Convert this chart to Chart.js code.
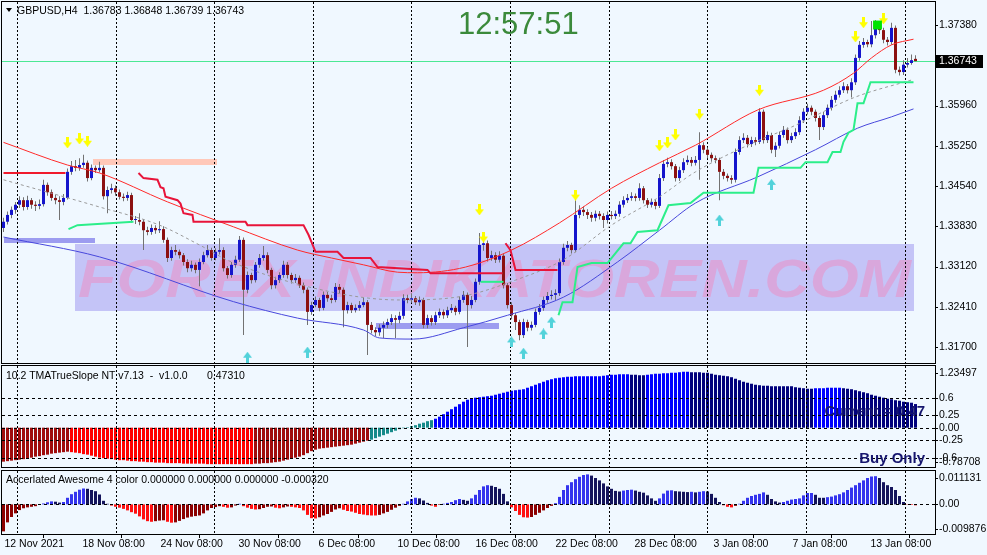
<!DOCTYPE html>
<html>
<head>
<meta charset="utf-8">
<title>GBPUSD,H4</title>
<script src="https://cdn.jsdelivr.net/npm/chart.js@4.4.1/dist/chart.umd.min.js"></script>
<style>
  html, body { margin: 0; padding: 0; background: #f0f8ff; }
  #wrap { position: relative; width: 987px; height: 555px; overflow: hidden; font-family: "Liberation Sans", Arial, sans-serif; }
  #wrap canvas { position: absolute; left: 0; }
  .lbl { position: absolute; font-size: 10.5px; line-height: 12px; color: #000; white-space: pre; }
  .tri { position: absolute; left: 6px; top: 8px; width: 0; height: 0; border-left: 3px solid transparent; border-right: 3px solid transparent; border-top: 4px solid #000; }
  .clock { position: absolute; left: 458px; top: 8px; font-size: 31px; line-height: 31px; color: #3b8a3b; }
  .note { position: absolute; right: 62px; font-size: 15px; line-height: 16px; font-weight: bold; color: #16166e; }
</style>
</head>
<body>
<div id="wrap">
  <canvas id="main" width="987" height="365" style="top:0"></canvas>
  <canvas id="tma" width="987" height="105" style="top:364px"></canvas>
  <canvas id="ao" width="987" height="86" style="top:469px"></canvas>
  <div class="tri"></div>
  <div class="lbl" style="left:17px;top:4px">GBPUSD,H4  1.36783 1.36848 1.36739 1.36743</div>
  <div class="clock">12:57:51</div>
  <div class="lbl" style="left:6px;top:369px">10.2 TMATrueSlope NT v7.13  -  v1.0.0</div>
  <div class="lbl" style="left:207px;top:369px">0.47310</div>
  <div class="note" style="top:403px">Current = 0.47</div>
  <div class="note" style="top:450px">Buy Only</div>
  <div class="lbl" style="left:6px;top:473px">Accerlated Awesome 4 color 0.000000 0.000000 0.000000 -0.000320</div>
</div>
<script>
// H4 candles, oldest first
const open = [
  1.3380,1.3391,1.3403,1.3412,1.3421,1.3429,1.3417,1.3429,1.3421,1.3419,
  1.3422,1.3456,1.3443,1.3433,1.3429,1.3426,1.3433,1.3479,1.3489,1.3486,
  1.3491,1.3495,1.3468,1.3486,1.3482,1.3486,1.3436,1.3447,1.3450,1.3443,
  1.3435,1.3433,1.3438,1.3394,1.3394,1.3391,1.3376,1.3373,1.3380,1.3376,
  1.3378,1.3359,1.3327,1.3341,1.3338,1.3332,1.3320,1.3309,1.3315,1.3306,
  1.3320,1.3332,1.3341,1.3327,1.3338,1.3341,1.3309,1.3297,1.3315,1.3324,
  1.3359,1.3271,1.3297,1.3288,1.3315,1.3327,1.3332,1.3306,1.3279,1.3288,
  1.3297,1.3315,1.3297,1.3288,1.3292,1.3279,1.3271,1.3232,1.3244,1.3253,
  1.3239,1.3262,1.3256,1.3253,1.3276,1.3271,1.3235,1.3244,1.3235,1.3239,
  1.3244,1.3249,1.3209,1.3200,1.3196,1.3204,1.3209,1.3214,1.3221,1.3218,
  1.3225,1.3256,1.3253,1.3256,1.3249,1.3253,1.3209,1.3221,1.3214,1.3226,
  1.3232,1.3226,1.3235,1.3239,1.3232,1.3253,1.3262,1.3244,1.3253,1.3285,
  1.3350,1.3353,1.3327,1.3332,1.3324,1.3331,1.3279,1.3244,1.3226,1.3214,
  1.3191,1.3214,1.3204,1.3209,1.3232,1.3239,1.3253,1.3260,1.3262,1.3265,
  1.3320,1.3345,1.3350,1.3341,1.3403,1.3412,1.3408,1.3403,1.3398,1.3405,
  1.3401,1.3394,1.3403,1.3401,1.3405,1.3421,1.3429,1.3433,1.3436,1.3433,
  1.3450,1.3429,1.3421,1.3426,1.3419,1.3468,1.3493,1.3496,1.3489,1.3468,
  1.3482,1.3496,1.3500,1.3495,1.3500,1.3526,1.3518,1.3509,1.3503,1.3500,
  1.3479,1.3472,1.3468,1.3465,1.3514,1.3535,1.3539,1.3528,1.3535,1.3532,
  1.3585,1.3535,1.3544,1.3518,1.3525,1.3544,1.3553,1.3535,1.3542,1.3549,
  1.3570,1.3585,1.3592,1.3585,1.3574,1.3558,1.3579,1.3592,1.3606,1.3615,
  1.3623,1.3630,1.3623,1.3637,1.3680,1.3703,1.3708,1.3704,1.3720,1.3740,
  1.3729,1.3712,1.3708,1.3733,1.3659,1.3655,1.3668,1.3671,1.36783
];
const high = [
  1.3398,1.3409,1.3418,1.3426,1.3436,1.3434,1.3437,1.3433,1.3427,1.3430,
  1.3465,1.3460,1.3448,1.3439,1.3436,1.3440,1.3485,1.3498,1.3500,1.3503,
  1.3509,1.3499,1.3492,1.3490,1.3497,1.3490,1.3453,1.3458,1.3455,1.3448,
  1.3441,1.3444,1.3442,1.3401,1.3406,1.3396,1.3382,1.3386,1.3385,1.3392,
  1.3383,1.3363,1.3347,1.3350,1.3342,1.3336,1.3325,1.3322,1.3319,1.3326,
  1.3338,1.3350,1.3345,1.3344,1.3362,1.3346,1.3313,1.3320,1.3331,1.3366,
  1.3363,1.3303,1.3301,1.3320,1.3334,1.3348,1.3337,1.3310,1.3294,1.3302,
  1.3322,1.3320,1.3301,1.3299,1.3296,1.3284,1.3275,1.3250,1.3259,1.3257,
  1.3268,1.3267,1.3262,1.3283,1.3281,1.3275,1.3250,1.3248,1.3245,1.3251,
  1.3258,1.3253,1.3214,1.3205,1.3210,1.3215,1.3220,1.3228,1.3226,1.3232,
  1.3263,1.3262,1.3265,1.3260,1.3259,1.3257,1.3227,1.3226,1.3232,1.3238,
  1.3236,1.3241,1.3246,1.3243,1.3259,1.3269,1.3266,1.3260,1.3291,1.3371,
  1.3368,1.3358,1.3340,1.3337,1.3339,1.3335,1.3283,1.3249,1.3230,1.3218,
  1.3220,1.3218,1.3215,1.3238,1.3246,1.3259,1.3267,1.3270,1.3272,1.3326,
  1.3352,1.3357,1.3354,1.3435,1.3420,1.3418,1.3413,1.3408,1.3411,1.3410,
  1.3406,1.3409,1.3410,1.3411,1.3427,1.3436,1.3440,1.3443,1.3441,1.3459,
  1.3454,1.3433,1.3432,1.3430,1.3475,1.3500,1.3504,1.3501,1.3493,1.3488,
  1.3503,1.3508,1.3505,1.3507,1.3549,1.3531,1.3522,1.3513,1.3508,1.3504,
  1.3484,1.3476,1.3473,1.3520,1.3542,1.3547,1.3544,1.3541,1.3540,1.3591,
  1.3589,1.3550,1.3548,1.3531,1.3550,1.3560,1.3557,1.3548,1.3556,1.3577,
  1.3591,1.3599,1.3596,1.3589,1.3578,1.3585,1.3598,1.3613,1.3622,1.3630,
  1.3637,1.3634,1.3644,1.3686,1.3710,1.3715,1.3712,1.3745,1.3747,1.3744,
  1.3733,1.3717,1.3742,1.3737,1.3665,1.3676,1.3680,1.3686,1.36848
];
const low = [
  1.3373,1.3386,1.3397,1.3405,1.3415,1.3411,1.3412,1.3414,1.3410,1.3413,
  1.3418,1.3437,1.3428,1.3422,1.3394,1.3420,1.3430,1.3474,1.3480,1.3481,
  1.3486,1.3462,1.3464,1.3477,1.3478,1.3430,1.3406,1.3441,1.3437,1.3430,
  1.3427,1.3428,1.3389,1.3387,1.3385,1.3341,1.3367,1.3368,1.3370,1.3371,
  1.3354,1.3320,1.3322,1.3332,1.3326,1.3314,1.3302,1.3303,1.3300,1.3277,
  1.3316,1.3328,1.3322,1.3323,1.3333,1.3303,1.3291,1.3292,1.3310,1.3320,
  1.3191,1.3265,1.3282,1.3284,1.3310,1.3322,1.3300,1.3272,1.3273,1.3283,
  1.3292,1.3291,1.3282,1.3283,1.3274,1.3265,1.3209,1.3227,1.3240,1.3233,
  1.3235,1.3250,1.3247,1.3249,1.3265,1.3205,1.3229,1.3230,1.3231,1.3234,
  1.3240,1.3156,1.3194,1.3189,1.3190,1.3186,1.3203,1.3209,1.3186,1.3212,
  1.3220,1.3247,1.3248,1.3244,1.3243,1.3203,1.3203,1.3208,1.3209,1.3221,
  1.3220,1.3221,1.3230,1.3226,1.3228,1.3248,1.3170,1.3238,1.3249,1.3280,
  1.3340,1.3321,1.3322,1.3318,1.3319,1.3273,1.3238,1.3219,1.3200,1.3182,
  1.3186,1.3198,1.3199,1.3205,1.3227,1.3234,1.3248,1.3254,1.3252,1.3260,
  1.3315,1.3339,1.3335,1.3337,1.3397,1.3401,1.3396,1.3391,1.3392,1.3395,
  1.3380,1.3388,1.3395,1.3396,1.3400,1.3416,1.3424,1.3428,1.3427,1.3428,
  1.3423,1.3415,1.3416,1.3413,1.3415,1.3463,1.3487,1.3483,1.3462,1.3463,
  1.3477,1.3491,1.3489,1.3490,1.3465,1.3512,1.3503,1.3497,1.3494,1.3429,
  1.3466,1.3462,1.3458,1.3460,1.3509,1.3530,1.3522,1.3523,1.3526,1.3528,
  1.3529,1.3530,1.3512,1.3505,1.3520,1.3539,1.3529,1.3530,1.3537,1.3544,
  1.3565,1.3580,1.3579,1.3568,1.3535,1.3553,1.3574,1.3587,1.3601,1.3610,
  1.3618,1.3617,1.3610,1.3632,1.3675,1.3698,1.3699,1.3699,1.3714,1.3722,
  1.3706,1.3702,1.3703,1.3653,1.3649,1.3650,1.3663,1.3668,1.36739
];
const close = [
  1.3391,1.3403,1.3412,1.3421,1.3429,1.3417,1.3429,1.3421,1.3419,1.3422,
  1.3456,1.3443,1.3433,1.3429,1.3426,1.3433,1.3479,1.3489,1.3486,1.3491,
  1.3495,1.3468,1.3486,1.3482,1.3486,1.3436,1.3447,1.3450,1.3443,1.3435,
  1.3433,1.3438,1.3394,1.3394,1.3391,1.3376,1.3373,1.3380,1.3376,1.3378,
  1.3359,1.3327,1.3341,1.3338,1.3332,1.3320,1.3309,1.3315,1.3306,1.3320,
  1.3332,1.3341,1.3327,1.3338,1.3341,1.3309,1.3297,1.3315,1.3324,1.3359,
  1.3271,1.3297,1.3288,1.3315,1.3327,1.3332,1.3306,1.3279,1.3288,1.3297,
  1.3315,1.3297,1.3288,1.3292,1.3279,1.3271,1.3232,1.3244,1.3253,1.3239,
  1.3262,1.3256,1.3253,1.3276,1.3271,1.3235,1.3244,1.3235,1.3239,1.3244,
  1.3249,1.3209,1.3200,1.3196,1.3204,1.3209,1.3214,1.3221,1.3218,1.3225,
  1.3256,1.3253,1.3256,1.3249,1.3253,1.3209,1.3221,1.3214,1.3226,1.3232,
  1.3226,1.3235,1.3239,1.3232,1.3253,1.3262,1.3244,1.3253,1.3285,1.3350,
  1.3353,1.3327,1.3332,1.3324,1.3331,1.3279,1.3244,1.3226,1.3214,1.3191,
  1.3214,1.3204,1.3209,1.3232,1.3239,1.3253,1.3260,1.3262,1.3265,1.3320,
  1.3345,1.3350,1.3341,1.3403,1.3412,1.3408,1.3403,1.3398,1.3405,1.3401,
  1.3394,1.3403,1.3401,1.3405,1.3421,1.3429,1.3433,1.3436,1.3433,1.3450,
  1.3429,1.3421,1.3426,1.3419,1.3468,1.3493,1.3496,1.3489,1.3468,1.3482,
  1.3496,1.3500,1.3495,1.3500,1.3526,1.3518,1.3509,1.3503,1.3500,1.3479,
  1.3472,1.3468,1.3465,1.3514,1.3535,1.3539,1.3528,1.3535,1.3532,1.3585,
  1.3535,1.3544,1.3518,1.3525,1.3544,1.3553,1.3535,1.3542,1.3549,1.3570,
  1.3585,1.3592,1.3585,1.3574,1.3558,1.3579,1.3592,1.3606,1.3615,1.3623,
  1.3630,1.3623,1.3637,1.3680,1.3703,1.3708,1.3704,1.3720,1.3740,1.3729,
  1.3712,1.3708,1.3733,1.3659,1.3655,1.3668,1.3671,1.3676,1.36743
];

// TMA true slope histogram
const tma = [
  -0.68,-0.67,-0.66,-0.65,-0.64,-0.63,-0.61,-0.60,-0.58,-0.57,
  -0.55,-0.54,-0.52,-0.51,-0.50,-0.49,-0.48,-0.49,-0.50,-0.51,
  -0.53,-0.54,-0.56,-0.58,-0.60,-0.61,-0.62,-0.63,-0.64,-0.65,
  -0.65,-0.66,-0.67,-0.67,-0.68,-0.68,-0.69,-0.69,-0.70,-0.70,
  -0.70,-0.71,-0.71,-0.71,-0.71,-0.72,-0.72,-0.72,-0.72,-0.72,
  -0.72,-0.73,-0.73,-0.73,-0.73,-0.73,-0.73,-0.73,-0.73,-0.73,
  -0.73,-0.73,-0.73,-0.72,-0.72,-0.71,-0.71,-0.70,-0.69,-0.68,
  -0.66,-0.64,-0.62,-0.60,-0.58,-0.55,-0.51,-0.47,-0.44,-0.42,
  -0.41,-0.40,-0.39,-0.38,-0.37,-0.36,-0.35,-0.34,-0.32,-0.30,
  -0.28,-0.26,-0.24,-0.21,-0.18,-0.15,-0.12,-0.09,-0.06,-0.03,
  -0.01,0.01,0.03,0.05,0.08,0.10,0.13,0.15,0.18,0.22,
  0.27,0.32,0.37,0.42,0.47,0.52,0.56,0.58,0.60,0.61,
  0.62,0.63,0.64,0.66,0.68,0.70,0.72,0.74,0.75,0.76,
  0.77,0.80,0.83,0.86,0.89,0.92,0.95,0.97,0.99,1.00,
  1.01,1.02,1.02,1.03,1.03,1.03,1.03,1.03,1.03,1.03,
  1.04,1.05,1.06,1.06,1.07,1.07,1.07,1.06,1.06,1.05,
  1.05,1.06,1.07,1.08,1.08,1.09,1.09,1.10,1.10,1.11,
  1.12,1.12,1.11,1.11,1.11,1.10,1.10,1.08,1.06,1.05,
  1.04,1.03,1.01,0.98,0.95,0.92,0.90,0.88,0.86,0.85,
  0.84,0.84,0.83,0.83,0.83,0.83,0.83,0.83,0.81,0.80,
  0.79,0.78,0.78,0.79,0.79,0.79,0.80,0.80,0.80,0.80,
  0.79,0.78,0.77,0.75,0.73,0.71,0.69,0.66,0.64,0.62,
  0.60,0.58,0.57,0.55,0.54,0.52,0.51,0.50,0.4731
];

// Accelerated awesome oscillator
const ao = [
  -0.0090,-0.0060,-0.0042,-0.0030,-0.0019,-0.0013,-0.0010,-0.0008,-0.0006,-0.0002,
  0.0003,0.0007,0.0010,0.0009,0.0006,0.0008,0.0022,0.0034,0.0042,0.0049,
  0.0053,0.0052,0.0048,0.0044,0.0033,0.0012,0.0002,-0.0004,-0.0008,-0.0011,
  -0.0015,-0.0020,-0.0026,-0.0031,-0.0040,-0.0050,-0.0056,-0.0058,-0.0056,-0.0054,
  -0.0053,-0.0058,-0.0061,-0.0060,-0.0055,-0.0049,-0.0044,-0.0041,-0.0039,-0.0037,
  -0.0030,-0.0020,-0.0012,-0.0009,-0.0006,-0.0008,-0.0011,-0.0010,-0.0004,0.0002,
  -0.0006,-0.0011,-0.0015,-0.0017,-0.0016,-0.0012,-0.0008,-0.0007,-0.0011,-0.0013,
  -0.0010,-0.0007,-0.0008,-0.0010,-0.0012,-0.0020,-0.0035,-0.0046,-0.0047,-0.0043,
  -0.0037,-0.0032,-0.0025,-0.0017,-0.0013,-0.0018,-0.0022,-0.0024,-0.0028,-0.0032,
  -0.0034,-0.0036,-0.0037,-0.0037,-0.0035,-0.0030,-0.0025,-0.0018,-0.0011,-0.0005,
  0.0002,0.0010,0.0018,0.0022,0.0020,0.0013,0.0005,-0.0004,-0.0008,-0.0002,
  0.0002,0.0005,0.0008,0.0014,0.0018,0.0015,0.0012,0.0020,0.0032,0.0048,
  0.0060,0.0064,0.0062,0.0058,0.0052,0.0035,0.0010,-0.0010,-0.0022,-0.0035,
  -0.0043,-0.0044,-0.0042,-0.0035,-0.0028,-0.0020,-0.0012,-0.0005,0.0004,0.0025,
  0.0048,0.0064,0.0074,0.0084,0.0092,0.0098,0.0100,0.0096,0.0088,0.0080,
  0.0070,0.0060,0.0052,0.0045,0.0043,0.0046,0.0048,0.0049,0.0046,0.0042,
  0.0039,0.0030,0.0020,0.0012,0.0020,0.0036,0.0046,0.0047,0.0044,0.0043,
  0.0042,0.0041,0.0042,0.0040,0.0042,0.0044,0.0043,0.0035,0.0022,0.0008,
  -0.0003,-0.0008,-0.0010,-0.0005,0.0002,0.0012,0.0022,0.0028,0.0032,0.0035,
  0.0040,0.0032,0.0018,0.0010,0.0006,0.0008,0.0012,0.0016,0.0018,0.0020,
  0.0030,0.0038,0.0038,0.0032,0.0022,0.0022,0.0024,0.0026,0.0030,0.0034,
  0.0040,0.0048,0.0056,0.0064,0.0072,0.0080,0.0088,0.0093,0.0094,0.0088,
  0.0074,0.0064,0.0058,0.0048,0.0028,0.0008,-0.0001,-0.0002,-0.00032
];

// band lines and stop lines: [bar, price]
const upperBand = [[0,1.3531],[16,1.3491],[24,1.3477],[41,1.3426],[57.5,1.3382],[73.5,1.3341],[82,1.3327],[90,1.3315],[98.5,1.3302],[103.5,1.3301],[115.5,1.3311],[127,1.3341],[139,1.3389],[152,1.3450],[164,1.3495],[173,1.3526],[188.5,1.3588],[205,1.3623],[212.5,1.3653],[217,1.3680],[222,1.3703],[227.5,1.3713]];
const lowerBand = [[0,1.3364],[24,1.3329],[57.5,1.3250],[73.5,1.3221],[90,1.3200],[94,1.3186],[102.5,1.3184],[115,1.3204],[126,1.3226],[140,1.3258],[153.5,1.3320],[164,1.3376],[173,1.3424],[188.5,1.3470],[203,1.3518],[213.5,1.3556],[222,1.3576],[227.5,1.3590]];
const midBand = [[0,1.3465],[24,1.3417],[39,1.3385],[49,1.3350],[57,1.3320],[82,1.3267],[99,1.3253],[115,1.3260],[128,1.3288],[140,1.3324],[152,1.3385],[164,1.3435],[173,1.3479],[188,1.3532],[197,1.3558],[213,1.3611],[227,1.3641]];
const redStopA = [[0,1.3477],[15.5,1.3477]];
const redStopB = [[33.75,1.3477],[35,1.3468],[38.5,1.3465],[39.25,1.3452],[40,1.3450],[40.5,1.3435],[43.5,1.3429],[44.25,1.3423],[45,1.3406],[47.25,1.3403],[47.5,1.3391],[60.5,1.3391],[61,1.3385],[75,1.3385],[76.25,1.3368],[78,1.3338],[83.5,1.3338],[85,1.3327],[91.75,1.3327],[93.5,1.3311],[106,1.3306],[106.75,1.3300],[124.75,1.3300]];
const redStopC = [[125.5,1.3353],[126.75,1.3341],[128,1.3306],[138.5,1.3306]];
const greenStopA = [[16.25,1.3378],[18.5,1.3385],[32.5,1.3391]];
const greenStopB = [[119.25,1.3285],[125,1.3285]];
const greenStopC = [[138.75,1.3226],[139.75,1.3249],[142.25,1.3249],[143.5,1.3311],[147,1.3318],[151,1.3318],[155,1.3353],[156.75,1.3353],[158.5,1.3373],[163.5,1.3376],[166.25,1.3420],[171.75,1.3424],[175,1.3442],[187.5,1.3442],[188.75,1.3486],[199.25,1.3486],[200.5,1.3496],[206,1.3496],[207.25,1.3514],[209.25,1.3514],[210,1.3532],[211.25,1.3548],[212.5,1.3553],[213.5,1.3600],[215,1.3600],[216.75,1.3637],[227.5,1.3637]];

// signal arrows
const sellIdx = [16, 19, 21, 119, 120, 143, 164, 166, 168, 174, 189, 213, 215, 220];
const sellPrice = [1.3530, 1.3537, 1.3533, 1.3412, 1.3364, 1.3438, 1.3525, 1.3530, 1.3544, 1.3581, 1.3623, 1.3717, 1.3742, 1.3749];
const buyIdx = [61, 76, 127, 130, 135, 137, 179, 192];
const buyPrice = [1.3152, 1.3161, 1.3179, 1.3159, 1.3193, 1.3214, 1.3394, 1.3457];
const markIdx = [218.5];
const markPrice = [1.3738];

// chart objects in bar/price units
const boxes = [
  { from: 22.25, to: 53.25, lo: 1.3491, hi: 1.3502, color: '#ffc8b9' },
  { from: 0, to: 22.75, lo: 1.3353, hi: 1.3362, color: '#9c9cf0' },
  { from: 93, to: 124, lo: 1.3202, hi: 1.3212, color: '#9c9cf0' }
];
const banner = { from: 17.75, to: 227.5, lo: 1.3233, hi: 1.3352, color: '#c4c4f7', text: 'FOREX-INDIKATOREN.COM' };

// axes
const priceTicks = [1.37380, 1.36670, 1.35960, 1.35250, 1.34540, 1.33830, 1.33120, 1.32410, 1.31700];
const tmaTicks = [1.23497, 0.6, 0.25, 0, -0.25, -0.6, -0.78708];
const tmaTickText = ['1.23497', '0.6', '0.25', '0.00', '-0.25', '-0.6', '-0.78708'];
const tmaLevels = [0.6, 0.25, 0, -0.25, -0.6];
const aoTicks = [0.011131, 0, -0.009876];
const aoTickText = ['0.011131', '0.00', '-0.009876'];
const gridIdx = [3.25, 28, 52.5, 77.25, 101.75, 126.5, 151.25, 175.75, 200.5, 225.25];
const timeIdx = [0.25, 19.75, 39.25, 58.75, 78.75, 98.5, 118, 138, 157.75, 177.5, 197.25, 216.75];
const timeLabels = ['12 Nov 2021', '18 Nov 08:00', '24 Nov 08:00', '30 Nov 08:00', '6 Dec 08:00', '10 Dec 08:00', '16 Dec 08:00', '22 Dec 08:00', '28 Dec 08:00', '3 Jan 08:00', '7 Jan 08:00', '13 Jan 08:00'];

const X_MIN = -0.375, X_MAX = 232.875;
const FONT = '"Liberation Sans", Arial, sans-serif';
Chart.defaults.font.family = FONT;

const idx = close.map((c, i) => i);
const pts = arr => arr.map(p => ({ x: p[0], y: p[1] }));
const lastClose = close[close.length - 1];

function arrowIcon(color, down) {
  const c = document.createElement('canvas');
  c.width = 9; c.height = 11;
  const g = c.getContext('2d');
  g.fillStyle = color;
  g.beginPath();
  if (down) {
    g.moveTo(3, 0); g.lineTo(6, 0); g.lineTo(6, 5); g.lineTo(9, 5); g.lineTo(4.5, 11); g.lineTo(0, 5); g.lineTo(3, 5);
  } else {
    g.moveTo(4.5, 0); g.lineTo(9, 6); g.lineTo(6, 6); g.lineTo(6, 11); g.lineTo(3, 11); g.lineTo(3, 6); g.lineTo(0, 6);
  }
  g.closePath();
  g.fill();
  return c;
}
const sellIcon = arrowIcon('#ffff00', true);
const buyIcon = arrowIcon('#52d2da', false);

function vGrid(chart) {
  const { ctx, chartArea: a, scales: { x } } = chart;
  ctx.save();
  ctx.strokeStyle = '#000';
  ctx.lineWidth = 1;
  ctx.setLineDash([2, 2]);
  gridIdx.forEach(v => {
    const px = Math.round(x.getPixelForValue(v)) + 0.5;
    ctx.beginPath(); ctx.moveTo(px, a.top); ctx.lineTo(px, a.bottom); ctx.stroke();
  });
  ctx.restore();
}

function frame(chart) {
  const { ctx, chartArea: a } = chart;
  ctx.save();
  ctx.strokeStyle = '#000';
  ctx.lineWidth = 1;
  ctx.strokeRect(Math.round(a.left) - 0.5, Math.round(a.top) - 0.5, Math.round(a.right - a.left) + 1, Math.round(a.bottom - a.top) + 1);
  ctx.restore();
}

function rightLabels(chart, vals, texts) {
  const { ctx, chartArea: a, scales: { y } } = chart;
  ctx.save();
  ctx.font = '10.5px ' + FONT;
  ctx.fillStyle = '#000';
  ctx.strokeStyle = '#000';
  ctx.textBaseline = 'middle';
  vals.forEach((v, i) => {
    let py = y.getPixelForValue(v);
    py = Math.min(Math.max(py, a.top + 7), a.bottom - 5);
    ctx.fillText(texts[i], a.right + 4, py);
    const ty = Math.round(py) + 0.5;
    ctx.beginPath(); ctx.moveTo(a.right, ty); ctx.lineTo(a.right + 3, ty); ctx.stroke();
  });
  ctx.restore();
}

function hLevels(chart, levels) {
  const { ctx, chartArea: a, scales: { y } } = chart;
  ctx.save();
  ctx.strokeStyle = '#000';
  ctx.lineWidth = 1;
  ctx.setLineDash([3, 3]);
  levels.forEach(v => {
    const py = Math.round(y.getPixelForValue(v)) + 0.5;
    ctx.beginPath(); ctx.moveTo(a.left, py); ctx.lineTo(a.right, py); ctx.stroke();
  });
  ctx.restore();
}

const mainDecor = {
  id: 'mainDecor',
  beforeDatasetsDraw(chart) {
    const { ctx, chartArea: a, scales: { x, y } } = chart;
    ctx.save();
    ctx.beginPath(); ctx.rect(a.left, a.top, a.right - a.left, a.bottom - a.top); ctx.clip();
    // watermark banner
    const bx0 = Math.round(x.getPixelForValue(banner.from)), bx1 = Math.round(x.getPixelForValue(banner.to));
    const by0 = Math.round(y.getPixelForValue(banner.hi)), by1 = Math.round(y.getPixelForValue(banner.lo));
    ctx.fillStyle = banner.color;
    ctx.fillRect(bx0, by0, bx1 - bx0, by1 - by0);
    ctx.save();
    ctx.font = 'italic bold 54px ' + FONT;
    const tw = ctx.measureText(banner.text).width;
    ctx.translate((bx0 + bx1) / 2, (by0 + by1) / 2 + 19);
    ctx.scale((bx1 - bx0 - 6) / tw, 1);
    ctx.textAlign = 'center';
    ctx.textBaseline = 'alphabetic';
    ctx.fillStyle = '#d9a7dc';
    ctx.fillText(banner.text, 0, 0);
    ctx.restore();
    // rectangles
    boxes.forEach(b => {
      const x0 = Math.round(x.getPixelForValue(b.from)), x1 = Math.round(x.getPixelForValue(b.to));
      const y0 = Math.round(y.getPixelForValue(b.hi)), y1 = Math.round(y.getPixelForValue(b.lo));
      ctx.fillStyle = b.color;
      ctx.fillRect(x0, y0, x1 - x0, y1 - y0);
    });
    // current price line
    const py = Math.round(y.getPixelForValue(lastClose));
    ctx.fillStyle = '#4ce894';
    ctx.fillRect(a.left, py, a.right - a.left, 1);
    ctx.restore();
    vGrid(chart);
  },
  afterDraw(chart) {
    const { ctx, chartArea: a, scales: { y } } = chart;
    frame(chart);
    rightLabels(chart, priceTicks, priceTicks.map(v => v.toFixed(5)));
    const py = Math.round(y.getPixelForValue(lastClose));
    ctx.save();
    ctx.fillStyle = '#000';
    ctx.fillRect(a.right + 1, py - 6, 47, 13);
    ctx.fillStyle = '#fff';
    ctx.font = '10.5px ' + FONT;
    ctx.textBaseline = 'middle';
    ctx.fillText(lastClose.toFixed(5), a.right + 4, py + 0.5);
    ctx.restore();
  }
};

const BULL = '#1414cc', BEAR = '#8c1010', WICK = '#727272';

new Chart(document.getElementById('main'), {
  type: 'bar',
  data: {
    datasets: [
      { type: 'scatter', data: markIdx.map((v, k) => ({ x: v, y: markPrice[k] })), pointStyle: 'rect', pointRadius: 6.3, backgroundColor: '#00e400', borderWidth: 0, order: 0 },
      { type: 'scatter', data: sellIdx.map((v, k) => ({ x: v, y: sellPrice[k] })), pointStyle: sellIcon, pointRadius: 5, order: 1 },
      { type: 'scatter', data: buyIdx.map((v, k) => ({ x: v, y: buyPrice[k] })), pointStyle: buyIcon, pointRadius: 5, order: 1 },
      { type: 'line', data: pts(greenStopA), borderColor: '#2cee8a', borderWidth: 2, pointRadius: 0, tension: 0, order: 2 },
      { type: 'line', data: pts(greenStopB), borderColor: '#2cee8a', borderWidth: 2, pointRadius: 0, tension: 0, order: 2 },
      { type: 'line', data: pts(greenStopC), borderColor: '#2cee8a', borderWidth: 2, pointRadius: 0, tension: 0, order: 2 },
      { type: 'line', data: pts(redStopA), borderColor: '#f01a2c', borderWidth: 2, pointRadius: 0, tension: 0, order: 2 },
      { type: 'line', data: pts(redStopB), borderColor: '#e8143a', borderWidth: 2, pointRadius: 0, tension: 0, order: 2 },
      { type: 'line', data: pts(redStopC), borderColor: '#e8143a', borderWidth: 2, pointRadius: 0, tension: 0, order: 2 },
      { type: 'line', data: pts(upperBand), borderColor: '#ff2a2a', borderWidth: 1, pointRadius: 0, cubicInterpolationMode: 'monotone', order: 3 },
      { type: 'line', data: pts(lowerBand), borderColor: '#4848dc', borderWidth: 1, pointRadius: 0, cubicInterpolationMode: 'monotone', order: 3 },
      { type: 'line', data: pts(midBand), borderColor: '#9a9a9a', borderWidth: 1, borderDash: [3, 3], pointRadius: 0, cubicInterpolationMode: 'monotone', order: 3 },
      { type: 'bar', data: idx.map(i => ({ x: i, y: [open[i], close[i]] })), backgroundColor: idx.map(i => close[i] >= open[i] ? BULL : BEAR), barThickness: 3, minBarLength: 1, inflateAmount: 0, grouped: false, order: 4 },
      { type: 'bar', data: idx.map(i => ({ x: i, y: [low[i], high[i]] })), backgroundColor: WICK, barThickness: 1, inflateAmount: 0, grouped: false, order: 5 }
    ]
  },
  options: {
    responsive: false,
    animation: false,
    events: [],
    layout: { autoPadding: false, padding: { left: 2, top: 2, right: 52, bottom: 2 } },
    plugins: { legend: { display: false }, tooltip: { enabled: false } },
    scales: {
      x: { type: 'linear', display: false, min: X_MIN, max: X_MAX, offset: false },
      y: { type: 'linear', display: false, min: 1.31418, max: 1.37786 }
    }
  },
  plugins: [mainDecor]
});

// TMA slope colours
let tUp = true;
const tmaColors = tma.map((v, i) => {
  if (i > 0 && v !== tma[i - 1]) tUp = v > tma[i - 1];
  if (v > 0.17) return tUp ? '#0000ff' : '#00007c';
  if (v < -0.25) return tUp ? '#a00c0c' : '#ff0000';
  return '#168a8a';
});

new Chart(document.getElementById('tma'), {
  type: 'bar',
  data: {
    datasets: [{ data: idx.map(i => ({ x: i, y: tma[i] })), backgroundColor: tmaColors, barThickness: 3, inflateAmount: 0, grouped: false }]
  },
  options: {
    responsive: false,
    animation: false,
    events: [],
    layout: { autoPadding: false, padding: { left: 2, top: 2, right: 52, bottom: 2 } },
    plugins: { legend: { display: false }, tooltip: { enabled: false } },
    scales: {
      x: { type: 'linear', display: false, min: X_MIN, max: X_MAX, offset: false },
      y: { type: 'linear', display: false, min: -0.78708, max: 1.23497 }
    }
  },
  plugins: [{
    id: 'tmaDecor',
    afterDatasetsDraw(chart) { hLevels(chart, tmaLevels); vGrid(chart); },
    afterDraw(chart) { frame(chart); rightLabels(chart, tmaTicks, tmaTickText); }
  }]
});

// AO colours
let aUp = true;
const aoColors = ao.map((v, i) => {
  if (i > 0 && v !== ao[i - 1]) aUp = v > ao[i - 1];
  if (v >= 0) return aUp ? '#3434ee' : '#14145c';
  return aUp ? '#8c0000' : '#ff1010';
});

new Chart(document.getElementById('ao'), {
  type: 'bar',
  data: {
    datasets: [{ data: idx.map(i => ({ x: i, y: ao[i] })), backgroundColor: aoColors, barThickness: 3, inflateAmount: 0, grouped: false }]
  },
  options: {
    responsive: false,
    animation: false,
    events: [],
    layout: { autoPadding: false, padding: { left: 2, top: 2, right: 52, bottom: 0 } },
    plugins: { legend: { display: false }, tooltip: { enabled: false } },
    scales: {
      x: {
        type: 'linear', position: 'bottom', min: X_MIN, max: X_MAX, offset: false,
        afterBuildTicks: s => { s.ticks = timeIdx.map(v => ({ value: v })); },
        afterFit: s => { s.height = 21; },
        ticks: { autoSkip: false, maxRotation: 0, align: 'start', padding: 0, color: '#000', font: { size: 10.5 }, callback: (v, i) => timeLabels[i] },
        grid: { drawOnChartArea: false, drawTicks: true, tickLength: 4, color: '#000' },
        border: { display: false }
      },
      y: { type: 'linear', display: false, min: -0.009876, max: 0.011131 }
    }
  },
  plugins: [{
    id: 'aoDecor',
    afterDatasetsDraw(chart) { hLevels(chart, [0]); vGrid(chart); },
    afterDraw(chart) { frame(chart); rightLabels(chart, aoTicks, aoTickText); }
  }]
});
</script>
</body>
</html>
